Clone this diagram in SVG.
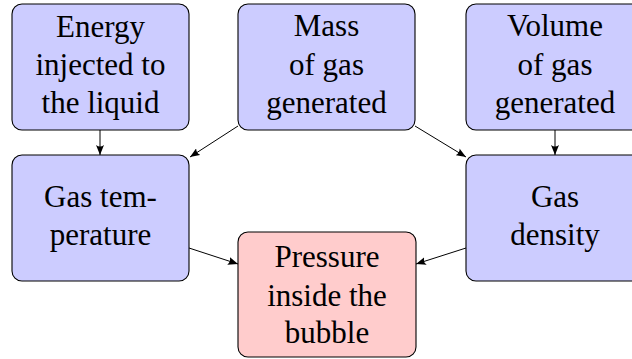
<svg xmlns="http://www.w3.org/2000/svg" width="632" height="359" viewBox="0 0 632 359">
<defs>
<marker id="ah" viewBox="0 0 10 8" refX="10" refY="4" markerWidth="10" markerHeight="8" markerUnits="userSpaceOnUse" orient="auto">
<path d="M0,0 Q3,4 0,8 L10,4 Z" fill="#000"/>
</marker>
</defs>
<rect width="632" height="359" fill="#fff"/>
<g id="energy">
<rect x="12" y="4" width="177" height="126" rx="10" fill="#ccccff" stroke="#000" stroke-width="1.1"/>
<text x="100.5" y="37" style="font-family:'Liberation Serif','Times New Roman',serif;font-size:31px" text-anchor="middle">Energy</text>
<text x="100.5" y="75" style="font-family:'Liberation Serif','Times New Roman',serif;font-size:31px" text-anchor="middle">injected to</text>
<text x="100.5" y="113" style="font-family:'Liberation Serif','Times New Roman',serif;font-size:31px" text-anchor="middle">the liquid</text>
</g>
<g id="mass">
<rect x="238" y="4" width="177" height="126" rx="10" fill="#ccccff" stroke="#000" stroke-width="1.1"/>
<text x="326.5" y="36" style="font-family:'Liberation Serif','Times New Roman',serif;font-size:31px" text-anchor="middle">Mass</text>
<text x="326.5" y="75" style="font-family:'Liberation Serif','Times New Roman',serif;font-size:31px" text-anchor="middle">of gas</text>
<text x="326.5" y="113" style="font-family:'Liberation Serif','Times New Roman',serif;font-size:31px" text-anchor="middle">generated</text>
</g>
<g id="volume">
<rect x="466" y="4" width="177" height="126" rx="10" fill="#ccccff" stroke="#000" stroke-width="1.1"/>
<text x="555" y="36" style="font-family:'Liberation Serif','Times New Roman',serif;font-size:31px" text-anchor="middle">Volume</text>
<text x="555" y="75" style="font-family:'Liberation Serif','Times New Roman',serif;font-size:31px" text-anchor="middle">of gas</text>
<text x="555" y="113" style="font-family:'Liberation Serif','Times New Roman',serif;font-size:31px" text-anchor="middle">generated</text>
</g>
<g id="gastemp">
<rect x="12" y="155" width="177" height="126" rx="10" fill="#ccccff" stroke="#000" stroke-width="1.1"/>
<text x="100.5" y="207" style="font-family:'Liberation Serif','Times New Roman',serif;font-size:31px" text-anchor="middle">Gas tem-</text>
<text x="100.5" y="245" style="font-family:'Liberation Serif','Times New Roman',serif;font-size:31px" text-anchor="middle">perature</text>
</g>
<g id="gasdensity">
<rect x="466" y="155" width="177" height="126" rx="10" fill="#ccccff" stroke="#000" stroke-width="1.1"/>
<text x="555" y="207" style="font-family:'Liberation Serif','Times New Roman',serif;font-size:31px" text-anchor="middle">Gas</text>
<text x="555" y="245" style="font-family:'Liberation Serif','Times New Roman',serif;font-size:31px" text-anchor="middle">density</text>
</g>
<g id="pressure">
<rect x="238" y="232" width="178" height="125" rx="10" fill="#ffcccc" stroke="#000" stroke-width="1.1"/>
<text x="327" y="267" style="font-family:'Liberation Serif','Times New Roman',serif;font-size:31px" text-anchor="middle">Pressure</text>
<text x="327" y="306" style="font-family:'Liberation Serif','Times New Roman',serif;font-size:31px" text-anchor="middle">inside the</text>
<text x="327" y="343" style="font-family:'Liberation Serif','Times New Roman',serif;font-size:31px" text-anchor="middle">bubble</text>
</g>
<g id="connectors" stroke="#000" stroke-width="1" marker-end="url(#ah)">
<line x1="100" y1="130" x2="100" y2="155"/>
<line x1="555" y1="130" x2="555" y2="155"/>
<line x1="238" y1="126" x2="190" y2="157"/>
<line x1="415" y1="126" x2="466" y2="157"/>
<line x1="189" y1="248" x2="238" y2="264"/>
<line x1="466" y1="248" x2="416" y2="264"/>
</g>
</svg>
